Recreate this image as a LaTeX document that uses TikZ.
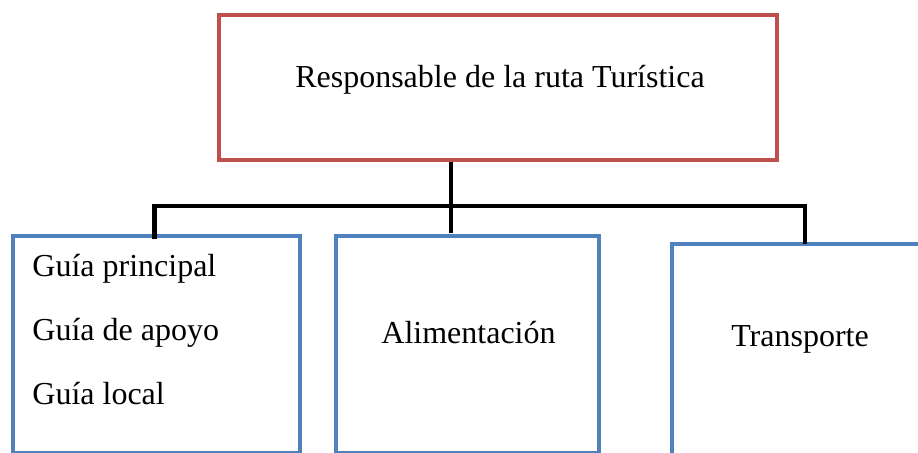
\documentclass[tikz,border=0pt]{standalone}
\usepackage{fontspec}
\setmainfont{Liberation Serif}
\usetikzlibrary{positioning, calc}

\definecolor{boxred}{HTML}{C0504D}
\definecolor{boxblue}{HTML}{4F81BD}

\begin{document}
\begin{tikzpicture}[
	x=0.5pt, y=-0.5pt,
	chief/.style={rectangle, draw=boxred, line width=2pt, minimum width=279pt, minimum height=72.5pt, inner sep=0pt},
	unit/.style={rectangle, draw=boxblue, line width=2pt, minimum height=108.5pt, inner sep=0pt, anchor=north west},
	boxtext/.style={font=\fontsize{16}{19}\selectfont, inner sep=0pt},
	link/.style={draw=black, line width=2.3pt}
]
\useasboundingbox (0,0) rectangle (918,453);
\clip (0,0) rectangle (918,453);

% Boxes
\node[chief, anchor=north west] (top) at (217,13) {};
\node[unit, minimum width=143.5pt] (guias) at (11,234) {};
\node[unit, minimum width=131.5pt] (alim) at (334,234) {};
\node[unit, minimum width=165pt, minimum height=114pt] (trans) at (670,242) {};

% Texts
\node[boxtext, anchor=base] (toptxt) at ($(top.center)+(2,0)$) {Responsable de la ruta Turística};
\foreach \txt [count=\i from 0] in {Guía principal, Guía de apoyo, Guía local}
	\node[boxtext, anchor=base west] (guia\i) at ($(guias.north west)+(21,43+64*\i)$) {\txt};
\node[boxtext, anchor=base] (alimtxt) at ($(alim.center)+(1,-1)$) {Alimentación};
\node[boxtext, anchor=base] (transtxt) at ($(trans.north west)+(130,105)$) {Transporte};

% Connectors
\coordinate (drop) at ($(top.south)+(-47,0)$);
\coordinate (bar) at ($(drop)+(0,44)$);
\draw[link] (drop) -- ($(drop)+(0,71)$);
\draw[link] ($(guias.north)+(-2,5)$) |- (bar) -| ($(trans.north west)+(135,2)$);

\end{tikzpicture}
\end{document}
